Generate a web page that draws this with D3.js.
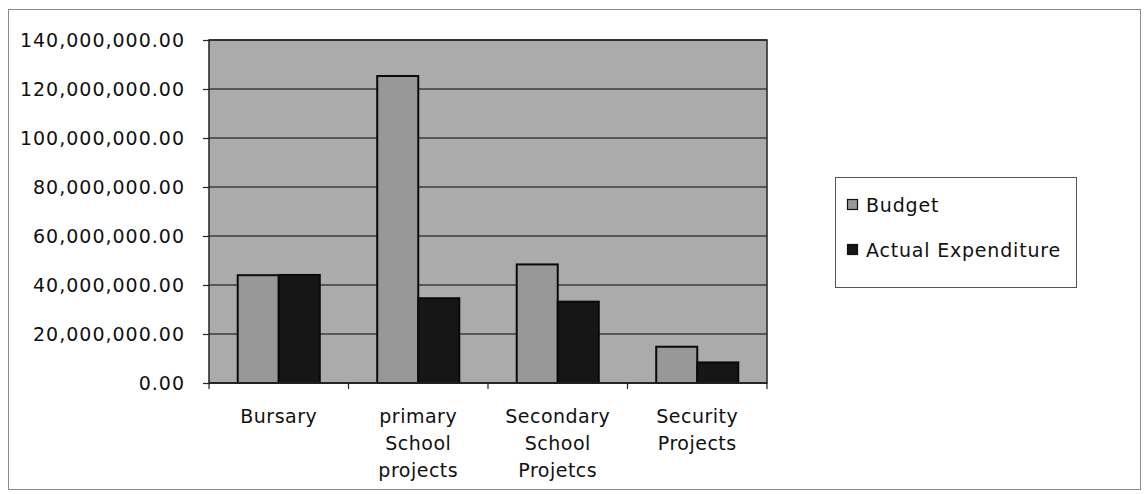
<!DOCTYPE html>
<html>
<head>
<meta charset="utf-8">
<script src="https://cdn.jsdelivr.net/npm/d3@7"></script>
<style>
  html, body { margin: 0; padding: 0; background: #ffffff; }
  svg { display: block; }
  text { font-family: "DejaVu Sans", sans-serif; fill: #111; }
</style>
</head>
<body>
<svg id="chart" width="1146" height="494"></svg>
<script>
const categories = [
  ["Bursary"],
  ["primary", "School", "projects"],
  ["Secondary", "School", "Projetcs"],
  ["Security", "Projects"]
];
const seriesNames = ["Budget", "Actual Expenditure"];
const budget = [44000000, 125300000, 48400000, 14800000];
const actual = [44100000, 34600000, 33200000, 8400000];
const yTicks = [0, 20000000, 40000000, 60000000, 80000000, 100000000, 120000000, 140000000];

const W = 1146, H = 494;
const plot = { left: 209, right: 767, top: 40, bottom: 383 };
const colors = { bg: "#ababab", budget: "#989898", actual: "#161616", grid: "#3c3c3c" };

const svg = d3.select("#chart");

// outer chart border
svg.append("rect")
  .attr("x", 8.5).attr("y", 9.5).attr("width", 1132).attr("height", 480)
  .attr("fill", "#fff").attr("stroke", "#8a8a8a").attr("stroke-width", 1);

const catKeys = categories.map((c, i) => i);
const x = d3.scaleBand().domain(catKeys).range([plot.left, plot.right]).paddingInner(0).paddingOuter(0);
const xs = d3.scaleBand().domain(seriesNames).range([0, x.bandwidth()]).paddingInner(0).paddingOuter(0.7);
const y = d3.scaleLinear().domain([0, 140000000]).range([plot.bottom, plot.top]);

// plot background
svg.append("rect")
  .attr("x", plot.left).attr("y", plot.top)
  .attr("width", plot.right - plot.left).attr("height", plot.bottom - plot.top)
  .attr("fill", colors.bg);

// gridlines + y axis
const yAxis = d3.axisLeft(y).tickValues(yTicks).tickFormat(d3.format(",.2f")).tickSize(6).tickPadding(18);
const gy = svg.append("g").attr("transform", `translate(${plot.left},0)`).call(yAxis);
gy.select(".domain").remove();
gy.selectAll(".tick line").attr("stroke", "#222").attr("stroke-width", 1.2);
gy.selectAll(".tick text")
  .style("font-size", "19px").style("letter-spacing", "1px")
  .attr("fill", "#111");

svg.append("g").selectAll("line.grid").data(yTicks).join("line")
  .attr("x1", plot.left).attr("x2", plot.right)
  .attr("y1", d => y(d)).attr("y2", d => y(d))
  .attr("stroke", colors.grid).attr("stroke-width", 1.4);

// bars
const data = categories.map((c, i) => ({ i, values: [budget[i], actual[i]] }));
const groups = svg.append("g").selectAll("g").data(data).join("g")
  .attr("transform", d => `translate(${x(d.i)},0)`);
groups.selectAll("rect").data(d => d.values.map((v, k) => ({ k, v }))).join("rect")
  .attr("x", d => xs(seriesNames[d.k]))
  .attr("width", xs.bandwidth())
  .attr("y", d => y(d.v))
  .attr("height", d => y(0) - y(d.v))
  .attr("fill", d => d.k === 0 ? colors.budget : colors.actual)
  .attr("stroke", "#0a0a0a").attr("stroke-width", 2);

// plot border
svg.append("rect")
  .attr("x", plot.left).attr("y", plot.top)
  .attr("width", plot.right - plot.left).attr("height", plot.bottom - plot.top)
  .attr("fill", "none").attr("stroke", "#222").attr("stroke-width", 1.5);

// x axis (ticks at category boundaries)
const xAxisG = svg.append("g").attr("transform", `translate(0,${plot.bottom})`);
xAxisG.append("line").attr("x1", plot.left).attr("x2", plot.right)
  .attr("stroke", "#222").attr("stroke-width", 1.5);
const bounds = catKeys.map(k => x(k)).concat([plot.right]);
xAxisG.selectAll("line.tk").data(bounds).join("line").attr("class", "tk")
  .attr("x1", d => d).attr("x2", d => d).attr("y1", 0).attr("y2", 6)
  .attr("stroke", "#222").attr("stroke-width", 1.2);

const labels = xAxisG.selectAll("text.cat").data(categories).join("text").attr("class", "cat")
  .attr("text-anchor", "middle")
  .style("font-size", "19px").style("letter-spacing", "0.5px");
labels.selectAll("tspan").data((d, i) => d.map(line => ({ line, i }))).join("tspan")
  .attr("x", d => x(d.i) + x.bandwidth() / 2)
  .attr("y", (d, j) => 40 + j * 27)
  .text(d => d.line);

// legend
const lg = svg.append("g").attr("transform", "translate(835,177)");
lg.append("rect").attr("x", 0.5).attr("y", 0.5).attr("width", 241).attr("height", 110)
  .attr("fill", "#fff").attr("stroke", "#555").attr("stroke-width", 1);
const legendColors = [colors.budget, colors.actual];
seriesNames.forEach((name, k) => {
  const yy = 35 + k * 45;
  lg.append("rect").attr("x", 12.5).attr("y", yy - 12.5).attr("width", 10).attr("height", 10)
    .attr("fill", legendColors[k]).attr("stroke", "#111").attr("stroke-width", 1.2);
  lg.append("text").attr("x", 31).attr("y", yy)
    .style("font-size", "19px").style("letter-spacing", "0.8px").text(name);
});
</script>
</body>
</html>
